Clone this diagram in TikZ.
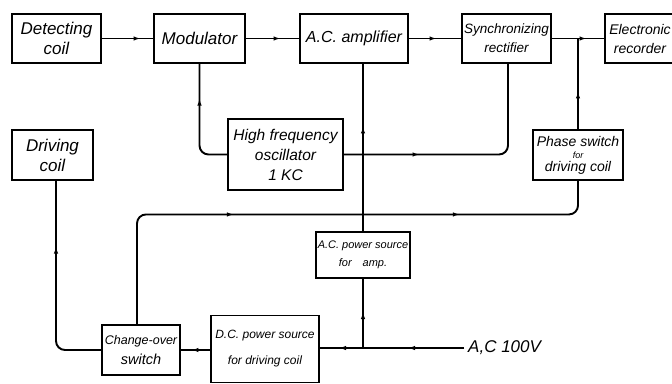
\documentclass[tikz,border=0pt]{standalone}
\usepackage{fontspec}
\setmainfont{Liberation Sans}
\usetikzlibrary{arrows.meta,decorations.markings}
\begin{document}
\begin{tikzpicture}[x=1pt,y=-1pt,
  box/.style={draw,line width=1.1pt,inner sep=0pt,align=center},
  f/.style 2 args={font={\itshape\fontsize{#1}{#2}\selectfont}},
  wire/.style={line width=1.9pt,rounded corners=9pt},
  ma/.style={postaction={decorate,decoration={markings,mark=at position #1 with {\arrow{Latex[length=7pt,width=4.5pt]}}}}}]
\useasboundingbox (0,0) rectangle (672,383);
% boxes
\node[box,f={17}{20},minimum width=89pt,minimum height=49pt] (det) at (56.5,38.5) {Detecting\\coil};
\node[box,f={17}{20},minimum width=91pt,minimum height=49pt] (mod) at (199.5,38.5) {Modulator};
\node[box,f={16}{20},minimum width=108pt,minimum height=49pt] (amp) at (354,38.5) {A.C. amplifier};
\node[box,f={13.5}{19},minimum width=89pt,minimum height=49pt] (sync) at (506.5,38.5) {Synchronizing\\rectifier};
\node[box,f={14}{19},minimum width=70pt,minimum height=49pt] (rec) at (640,38.5) {Electronic\\recorder};
\node[box,f={15.5}{20},minimum width=115pt,minimum height=71pt] (hfo) at (285.5,154.5) {High frequency\\oscillator\\1 KC};
\node[box,f={17}{20},minimum width=81pt,minimum height=50pt] (drv) at (52.5,155) {Driving\\coil};
\node[box,f={14}{12.5},minimum width=90pt,minimum height=50pt] (phase) at (578,155) {Phase switch\\{\fontsize{9}{12.5}\selectfont for}\\driving coil};
\node[box,f={11}{18},minimum width=94pt,minimum height=46pt] (acp) at (363,255) {A.C. power source\\for\hspace{1em}amp.};
\node[box,f={12.5}{20},minimum width=78pt,minimum height=50pt] (cos) at (141,350) {Change-over\\{\fontsize{14.5}{20}\selectfont switch}};
\node[box,f={12}{20},minimum width=108pt,minimum height=67pt] (dcp) at (265,349) {D.C. power source\\[6pt]for driving coil};
\node[f={17}{20},anchor=west,inner sep=0pt] (ac) at (468,348) {A,C 100V};
% junctions
\coordinate (J1) at (phase.north |- sync.east);
\coordinate (J2) at (acp.south |- ac.west);
% connectors
\draw[wire,ma=39pt] (det.east) -- (mod.west);
\draw[wire,ma=35pt] (mod.east) -- (amp.west);
\draw[wire,ma=28pt] (amp.east) -- (sync.west);
\draw[wire,ma=35pt] (sync.east) -- (rec.west);
\draw[wire,ma=38pt] (phase.north) -- (J1);
\draw[wire,ma=80pt] (hfo.west) -| (mod.south);
\draw[wire,ma=76pt] (hfo.east) -| ([xshift=1.5pt]sync.south);
\draw[wire,ma=105pt] (acp.north) -- (acp.north |- amp.south);
\draw[wire,ma=203pt,ma=429pt] ([xshift=-4pt]cos.north) -- ++(0,-110) -| (phase.south);
\draw[wire,ma=145pt] (cos.west) -| ([xshift=3.5pt]drv.south);
\draw[wire,ma=19pt] (dcp.west |- cos.east) -- (cos.east);
\draw[wire,ma=56pt,ma=125pt] ([xshift=-4pt]ac.west) -- (dcp.east |- ac.west);
\draw[wire,ma=36pt] (J2) -- (acp.south);
\end{tikzpicture}
\end{document}
